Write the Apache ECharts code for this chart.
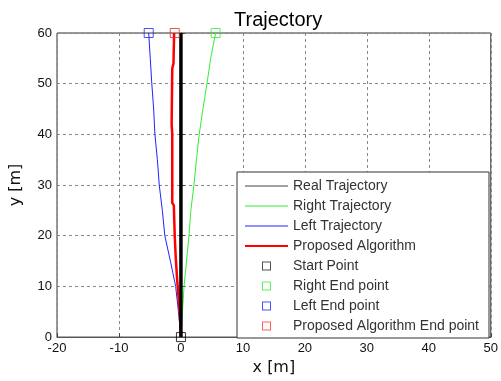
<!DOCTYPE html>
<html>
<head>
<meta charset="utf-8">
<title>Trajectory</title>
<script src="https://cdn.jsdelivr.net/npm/echarts@6/dist/echarts.min.js"></script>
<style>
  html, body { margin: 0; padding: 0; background: #fff; }
  #chart { width: 501px; height: 381px; }
</style>
</head>
<body>
<div id="chart"></div>
<script>
// 真实轨迹（x = 0 的直线）
const realX = [0, 0];
const realY = [0, 60];

// 右侧轨迹（绿色）
const rightY = [0, 5, 10, 15, 20, 25, 30, 35, 40, 45, 50, 55, 60];
const rightX = [0, 0.25, 0.5, 0.9, 1.3, 1.6, 2.1, 2.5, 2.95, 3.55, 4.2, 4.8, 5.6];

// 左侧轨迹（蓝色）
const leftY = [0, 5, 10, 15, 20, 25, 30, 35, 40, 45, 50, 55, 60];
const leftX = [0, -0.4, -0.85, -1.7, -2.6, -3.0, -3.5, -3.8, -4.2, -4.4, -4.7, -4.95, -5.2];

// 所提算法轨迹（红色）
const propY = [0, 4, 8, 12, 16, 20, 26, 26.5, 40, 42, 53, 54, 60];
const propX = [0, -0.15, -0.4, -0.65, -0.85, -1.0, -1.15, -1.4, -1.4, -1.5, -1.4, -1.2, -1.1];

// 起点和终点
const startPoint = [0, 0];
const rightEnd = [5.6, 60];
const leftEnd = [-5.2, 60];
const propEnd = [-1.0, 60];

// 坐标轴刻度
const xTicks = { min: -20, max: 50, step: 10 };
const yTicks = { min: 0, max: 60, step: 10 };

const zip = (xs, ys) => xs.map((x, i) => [x, ys[i]]);

const chart = echarts.init(document.getElementById('chart'));

const labelFont = 'Liberation Sans, Arial, sans-serif';
const nameFont = 'DejaVu Sans, sans-serif';

// 图例图标：开头两个点撑开 43x14 的包围盒，全部用填充画，避免描边把图标撑大
const box = 'M0,0L0,0M43,14L43,14';
const thinLine = 'path://' + box + 'M0,6.5L43,6.5L43,7.5L0,7.5Z';
const thickLine = 'path://' + box + 'M0,6L43,6L43,8L0,8Z';
const squareIcon = 'path://' + box + 'M17,2.5L26,2.5L26,11.5L17,11.5ZM18,3.5L18,10.5L25,10.5L25,3.5Z';

const legendItem = (name, icon, color) => ({
  name: name,
  icon: icon,
  itemStyle: { color: color, borderWidth: 0 }
});

const option = {
  animation: false,
  backgroundColor: '#fff',
  title: {
    text: 'Trajectory',
    left: 229,
    top: 5,
    textStyle: { fontFamily: labelFont, fontSize: 20, fontWeight: 'normal', color: '#000' }
  },
  grid: {
    left: 56, right: 8, top: 33, bottom: 40,
    show: true, borderColor: '#333', borderWidth: 1
  },
  legend: {
    orient: 'vertical',
    left: 237,
    top: 172,
    padding: [7, 10, 5, 8],
    itemWidth: 43,
    itemHeight: 14,
    itemGap: 6,
    backgroundColor: '#fff',
    borderColor: '#333',
    borderWidth: 1,
    textStyle: { fontFamily: labelFont, fontSize: 14, color: '#333' },
    data: [
      legendItem('Real Trajectory', thinLine, '#444'),
      legendItem('Right Trajectory', thinLine, '#33ee33'),
      legendItem('Left Trajectory', thinLine, '#2222ff'),
      legendItem('Proposed Algorithm', thickLine, '#ff0000'),
      legendItem('Start Point', squareIcon, '#222'),
      legendItem('Right End point', squareIcon, '#33ee33'),
      legendItem('Left End point', squareIcon, '#2222ff'),
      legendItem('Proposed Algorithm End point', squareIcon, '#ff3333')
    ]
  },
  xAxis: {
    type: 'value',
    min: xTicks.min, max: xTicks.max, interval: xTicks.step,
    name: 'x [m]',
    nameLocation: 'middle',
    nameGap: 22,
    nameTextStyle: { fontFamily: nameFont, fontSize: 16, color: '#111' },
    axisLine: { lineStyle: { color: '#555' } },
    axisTick: { inside: true, length: 4, lineStyle: { color: '#444' } },
    axisLabel: { margin: 5, fontFamily: labelFont, fontSize: 13, color: '#111' },
    splitLine: { lineStyle: { color: '#888', type: [3, 3] } }
  },
  yAxis: {
    type: 'value',
    min: yTicks.min, max: yTicks.max, interval: yTicks.step,
    name: 'y [m]',
    nameLocation: 'middle',
    nameGap: 33,
    nameTextStyle: { fontFamily: nameFont, fontSize: 16, color: '#111' },
    axisLine: { show: true, lineStyle: { color: '#333' } },
    axisTick: { show: true, inside: true, length: 4, lineStyle: { color: '#444' } },
    axisLabel: { margin: 5, fontFamily: labelFont, fontSize: 13, color: '#111' },
    splitLine: { lineStyle: { color: '#888', type: [3, 3] } }
  },
  series: [
    {
      name: 'Right Trajectory', type: 'line', symbol: 'none', z: 2,
      lineStyle: { color: '#33ee33', width: 1 }, itemStyle: { color: '#33ee33' },
      data: zip(rightX, rightY)
    },
    {
      name: 'Left Trajectory', type: 'line', symbol: 'none', z: 2,
      lineStyle: { color: '#2222ff', width: 1 }, itemStyle: { color: '#2222ff' },
      data: zip(leftX, leftY)
    },
    {
      name: 'Proposed Algorithm', type: 'line', symbol: 'none', z: 3,
      lineStyle: { color: '#ff0000', width: 2.5 }, itemStyle: { color: '#ff0000' },
      data: zip(propX, propY)
    },
    {
      name: 'Real Trajectory', type: 'line', symbol: 'none', z: 4,
      lineStyle: { color: '#000', width: 3.5 }, itemStyle: { color: '#000' },
      data: zip(realX, realY)
    },
    {
      name: 'Start Point', type: 'scatter', symbol: 'rect', symbolSize: 9, z: 5,
      itemStyle: { color: 'transparent', borderColor: '#000', borderWidth: 1 },
      data: [startPoint]
    },
    {
      name: 'Right End point', type: 'scatter', symbol: 'rect', symbolSize: 9, z: 5,
      itemStyle: { color: 'transparent', borderColor: '#33ee33', borderWidth: 1 },
      data: [rightEnd]
    },
    {
      name: 'Left End point', type: 'scatter', symbol: 'rect', symbolSize: 9, z: 5,
      itemStyle: { color: 'transparent', borderColor: '#2222ff', borderWidth: 1 },
      data: [leftEnd]
    },
    {
      name: 'Proposed Algorithm End point', type: 'scatter', symbol: 'rect', symbolSize: 9, z: 5,
      itemStyle: { color: 'transparent', borderColor: '#ff2222', borderWidth: 1 },
      data: [propEnd]
    }
  ]
};

chart.setOption(option);
</script>
</body>
</html>
